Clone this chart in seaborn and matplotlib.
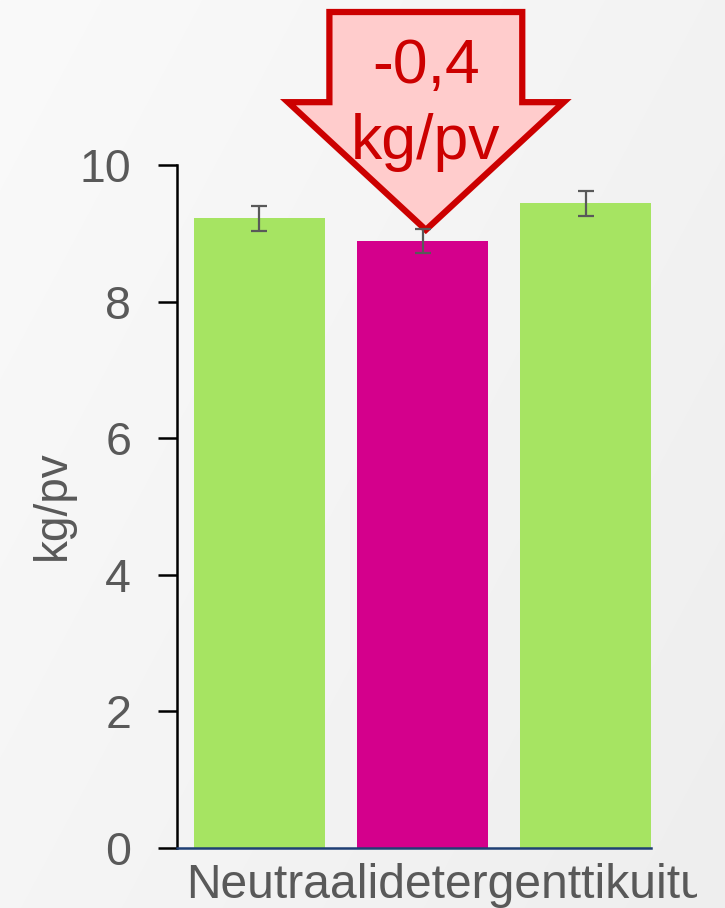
import numpy as np
import seaborn as sns
import matplotlib.pyplot as plt
from matplotlib.patches import Polygon, Rectangle

# data
groups = ["1", "2", "3"]
values = [9.22, 8.89, 9.44]
errors = [0.18, 0.18, 0.18]
bar_colors = ["#a6e462", "#d4008c", "#a6e462"]
y_ticks = [0, 2, 4, 6, 8, 10]
y_label = "kg/pv"
x_label = "Neutraalidetergenttikuitu"
change_text = ["-0,4", "kg/pv"]

sns.set_theme(style="white")
plt.rcParams["font.family"] = ["Liberation Sans", "DejaVu Sans"]

fig = plt.figure(figsize=(7.25, 9.08), dpi=100)

# soft grey background, lighter towards the top left
h, w = 908, 725
yy, xx = np.mgrid[0:h, 0:w]
shade = (250 - 12 * (0.6 * xx / w + 0.4 * yy / h)) / 255.0
fig.figimage(np.dstack([shade, shade, shade]), 0, 0, zorder=-10)

ax = fig.add_axes([177 / 725, 1 - 848 / 908, (651 - 177) / 725, (848 - 165) / 908])
ax.set_facecolor("none")

sns.barplot(x=groups, y=values, hue=groups, palette=bar_colors, legend=False,
            width=0.8, saturation=1, linewidth=0, edgecolor="none", ax=ax, zorder=2)
ax.errorbar(x=np.arange(len(values)), y=values, yerr=errors, fmt="none",
            ecolor="#595959", elinewidth=1.6, capsize=6, capthick=1.6, zorder=7)

ax.set_xlim(-0.505, 2.4)
ax.set_ylim(0, 10)
ax.set_yticks(y_ticks)
ax.set_xticks([])
ax.set_xlabel("")
ax.set_ylabel("")
ax.tick_params(axis="y", left=True, length=14, width=1.8, color="black",
               labelsize=33.5, labelcolor="#595959", pad=19)

for s in ["top", "right"]:
    ax.spines[s].set_visible(False)
ax.spines["left"].set_color("black")
ax.spines["left"].set_linewidth(1.8)
ax.spines["bottom"].set_color("#1f3f74")
ax.spines["bottom"].set_linewidth(1.8)
ax.spines["bottom"].set_zorder(6)

# down arrow showing the change
cx = 1.02
shaft, wing = 0.591, 0.845
y_top, y_wing, y_tip = 12.24, 10.92, 9.05
arrow = Polygon([(cx - shaft, y_top), (cx + shaft, y_top), (cx + shaft, y_wing),
                 (cx + wing, y_wing), (cx, y_tip), (cx - wing, y_wing),
                 (cx - shaft, y_wing)], closed=True, facecolor="#ffcccc",
                edgecolor="#cc0000", linewidth=4.5, joinstyle="miter",
                clip_on=False, zorder=5)
ax.add_patch(arrow)
ax.text(cx, 11.2, change_text[0], ha="center", va="baseline", fontsize=45,
        color="#cc0000", zorder=8, clip_on=False)
ax.text(cx, 10.09, change_text[1], ha="center", va="baseline", fontsize=45,
        color="#cc0000", zorder=8, clip_on=False)

fig.text(53 / 725, 1 - 505 / 908, y_label, rotation=90, ha="center", va="center",
         fontsize=33, color="#595959")

xl = fig.text(186 / 725, 1 - 898 / 908, x_label, ha="left", va="baseline",
              fontsize=34.6, color="#595959")
xl.set_clip_path(Rectangle((0, 0), 697 / 725, 1, transform=fig.transFigure))

fig.savefig("out.png", dpi=100)
